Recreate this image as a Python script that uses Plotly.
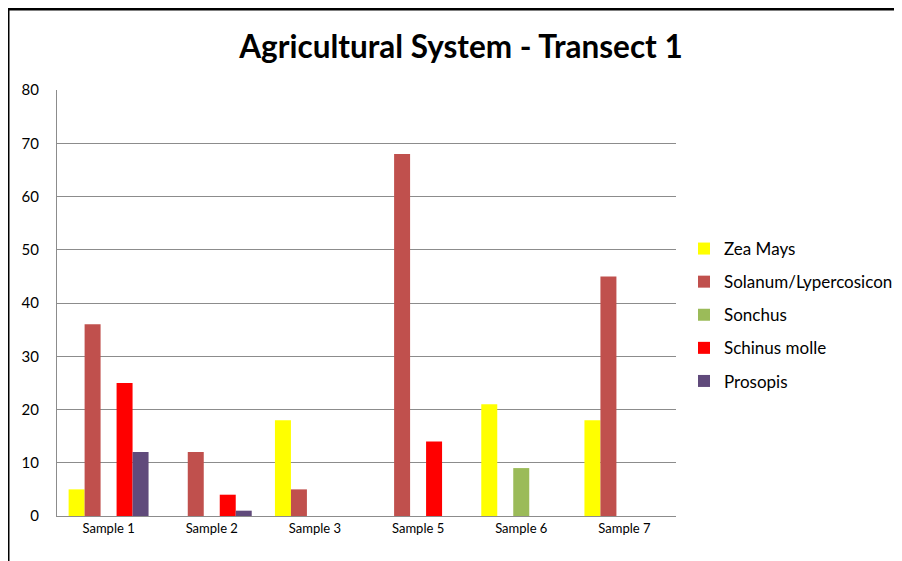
import plotly.graph_objects as go

categories = ["Sample 1", "Sample 2", "Sample 3", "Sample 5", "Sample 6", "Sample 7"]
zea_mays = [5, 0, 18, 0, 21, 18]
solanum = [36, 12, 5, 68, 0, 45]
sonchus = [0, 0, 0, 0, 9, 0]
schinus = [25, 4, 0, 14, 0, 0]
prosopis = [12, 1, 0, 0, 0, 0]

series_names = ["Zea Mays", "Solanum/Lypercosicon", "Sonchus", "Schinus molle", "Prosopis"]
series_values = [zea_mays, solanum, sonchus, schinus, prosopis]
colors = ["#FFFF00", "#C0504D", "#9BBB59", "#FF0000", "#604A7B"]

fig = go.Figure()
for name, vals, col in zip(series_names, series_values, colors):
    fig.add_trace(go.Bar(x=categories, y=vals, name=name, marker_color=col,
                         marker_line_width=0, legendgroup=name))

# page is shown with an 8px offset; figure coordinates = reference - 8
OFF = 8
W, H = 902, 561
L, R, T, B = 57 - OFF, W - (676 - OFF), 90 - OFF, H - (516 - OFF)
pw, ph = W - L - R, H - T - B

def px(xp):
    return (xp - OFF - L) / pw

def py(yp):
    return (H - B - (yp - OFF)) / ph

fig.update_layout(
    width=W, height=H,
    margin=dict(l=L, r=R, t=T, b=B),
    paper_bgcolor="white", plot_bgcolor="white",
    barmode="group", bargap=0.225, bargroupgap=0,
    title=dict(text="<b>Agricultural System - Transect 1</b>", x=(461 - OFF) / W, xanchor="center",
               y=1 - (47 - OFF) / H, yanchor="middle",
               font=dict(family="Lato", size=31.5, color="black")),
    font=dict(family="Lato", color="black"),
    legend=dict(x=px(684), xanchor="left", y=py(231), yanchor="top",
                font=dict(size=17, color="black"), tracegroupgap=8,
                itemwidth=30, bgcolor="rgba(0,0,0,0)"),
    showlegend=True,
)
fig.update_yaxes(range=[0, 80], dtick=10, showgrid=True, gridcolor="#8C8C8C", gridwidth=1,
                 showline=True, linecolor="#8C8C8C", linewidth=1, zeroline=False,
                 ticks="", tickfont=dict(size=15, color="black"), ticklabelstandoff=14)
fig.update_xaxes(showline=True, linecolor="#8C8C8C", linewidth=1, ticks="",
                 tickfont=dict(size=13, color="black"), mirror=False)

# image border (top and left)
fig.add_shape(type="line", xref="paper", yref="paper", x0=px(8), x1=px(905), y0=py(9), y1=py(9),
              line=dict(color="black", width=3))
fig.add_shape(type="line", xref="paper", yref="paper", x0=px(8), x1=px(8), y0=py(9), y1=py(570),
              line=dict(color="black", width=3))

fig.write_html("out.html")
